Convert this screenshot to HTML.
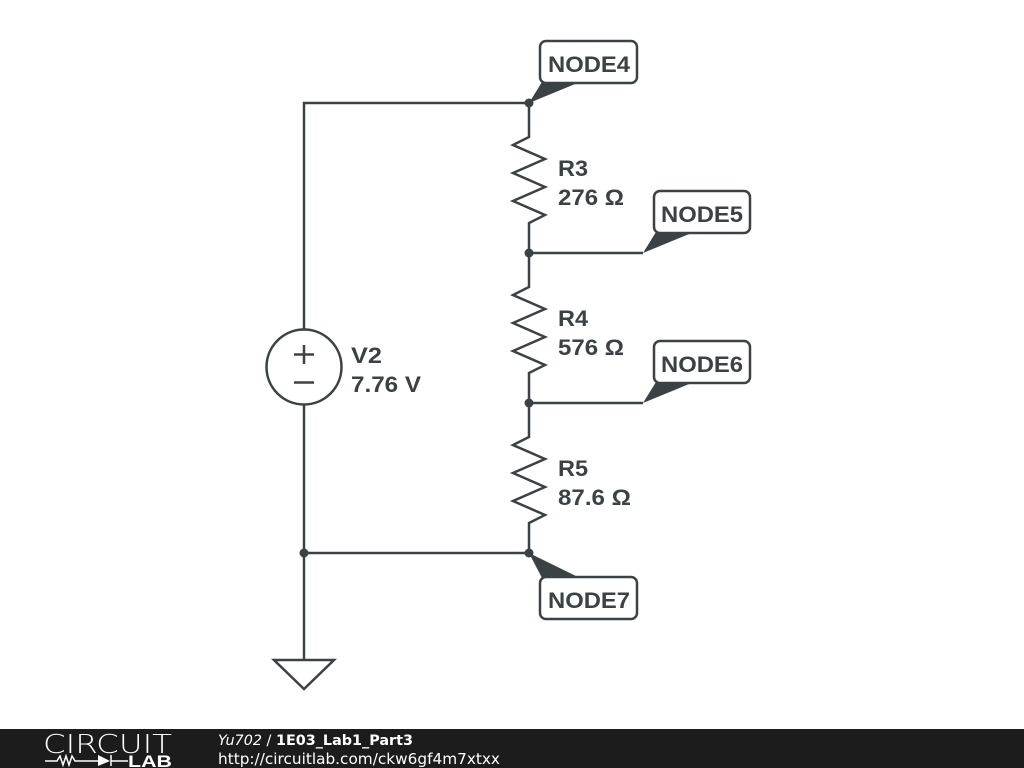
<!DOCTYPE html>
<html><head><meta charset="utf-8"><style>
html,body{margin:0;padding:0;background:#fff;width:1024px;height:768px;overflow:hidden}
</style></head><body>
<svg width="1024" height="768" viewBox="0 0 1024 768" xmlns="http://www.w3.org/2000/svg" style="position:absolute;left:0;top:0">
<g stroke="#3b4245" stroke-width="2.5" fill="none" stroke-linejoin="miter">
  <polyline points="529,103 304,103 304,330"/>
  <polyline points="304,405 304,660"/>
  <line x1="304" y1="553" x2="529" y2="553"/>
  <polyline points="529,103 529,137 513,145 545,159 513,173 545,187 513,201 545,215 529,223 529,287 513,295 545,309 513,323 545,337 513,351 545,365 529,373 529,437 513,445 545,459 513,473 545,487 513,501 545,515 529,523 529,553"/>
  <line x1="529" y1="253" x2="643" y2="253"/>
  <line x1="529" y1="403" x2="643" y2="403"/>
  <circle cx="304" cy="367" r="37.5"/>
  <line x1="304" y1="345" x2="304" y2="364"/><line x1="294" y1="354.5" x2="314" y2="354.5"/>
  <line x1="294" y1="382.5" x2="314" y2="382.5"/>
  <polygon points="274,660 334,660 304,689"/>
  <rect x="540" y="41" width="97" height="42" rx="6"/>
  <rect x="654" y="191" width="96" height="42" rx="6"/>
  <rect x="654" y="341" width="96" height="42" rx="6"/>
  <rect x="540" y="577" width="97" height="42" rx="6"/>
</g>
<g fill="#3b4245">
  <circle cx="529" cy="103" r="4.5"/><circle cx="529" cy="253" r="4.5"/><circle cx="529" cy="403" r="4.5"/><circle cx="529" cy="553" r="4.5"/><circle cx="304" cy="553" r="4.5"/>
  <polygon points="529,103 542,82 580,82"/>
  <polygon points="643,253 656,232 694,232"/>
  <polygon points="643,403 656,382 694,382"/>
  <polygon points="529,553 542,578 580,578"/>
</g>
<g font-family="Liberation Sans, sans-serif" font-weight="bold" font-size="22" fill="#3b4245" lengthAdjust="spacingAndGlyphs">
  <text x="548" y="72" textLength="82" lengthAdjust="spacingAndGlyphs">NODE4</text>
  <text x="661" y="222" textLength="82" lengthAdjust="spacingAndGlyphs">NODE5</text>
  <text x="661" y="372" textLength="82" lengthAdjust="spacingAndGlyphs">NODE6</text>
  <text x="548" y="608" textLength="82" lengthAdjust="spacingAndGlyphs">NODE7</text>
  <text x="558" y="176" textLength="30" lengthAdjust="spacingAndGlyphs">R3</text><text x="558" y="205" textLength="66" lengthAdjust="spacingAndGlyphs">276 Ω</text>
  <text x="558" y="326" textLength="30" lengthAdjust="spacingAndGlyphs">R4</text><text x="558" y="355" textLength="66" lengthAdjust="spacingAndGlyphs">576 Ω</text>
  <text x="558" y="476" textLength="30" lengthAdjust="spacingAndGlyphs">R5</text><text x="558" y="505" textLength="73" lengthAdjust="spacingAndGlyphs">87.6 Ω</text>
  <text x="351" y="363" textLength="31" lengthAdjust="spacingAndGlyphs">V2</text><text x="351" y="392" textLength="70" lengthAdjust="spacingAndGlyphs">7.76 V</text>
</g>
<rect x="0" y="729" width="1024" height="39" fill="#1c1c1c"/>
<text x="43" y="753" font-family="DejaVu Sans, sans-serif" font-size="26" fill="#fff" font-weight="200" textLength="129" lengthAdjust="spacingAndGlyphs">CIRCUIT</text>
<g stroke="#fff" stroke-width="1.5" fill="none"><polyline points="45,761 57,761 60,756 63,765 66,756 69,765 72,756 75,761 98,761"/><line x1="111" y1="755" x2="111" y2="766"/><line x1="111" y1="761" x2="128" y2="761"/></g>
<polygon points="98,755 98,766 110,761" fill="#fff"/>
<text x="128" y="767" font-family="Liberation Sans, sans-serif" font-weight="bold" font-size="17" fill="#fff" textLength="44" lengthAdjust="spacingAndGlyphs">LAB</text>
<text x="218" y="745" font-family="DejaVu Sans, sans-serif" font-size="14.5" fill="#fff" textLength="195" lengthAdjust="spacingAndGlyphs"><tspan font-style="italic">Yu702</tspan> / <tspan font-weight="bold">1E03_Lab1_Part3</tspan></text>
<text x="218" y="764" font-family="DejaVu Sans, sans-serif" font-size="15.5" fill="#fff" textLength="282" lengthAdjust="spacingAndGlyphs">http://circuitlab.com/ckw6gf4m7xtxx</text>
</svg>
</body></html>
